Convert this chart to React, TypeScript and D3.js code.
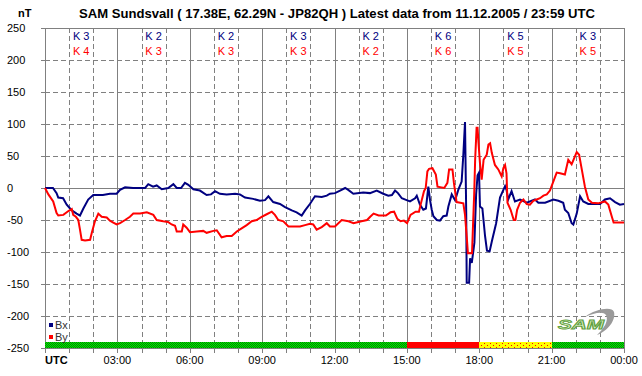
import React from 'react';
import * as d3 from 'd3';

const W = 642;
const H = 376;

const kBx = [3, 2, 2, 3, 2, 6, 5, 3];
const kBy = [4, 3, 3, 3, 2, 6, 5, 5];
const bandStatus = ['quiet', 'quiet', 'quiet', 'quiet', 'quiet', 'storm', 'active', 'quiet'];
const yTicks = [250, 200, 150, 100, 50, 0, -50, -100, -150, -200, -250];
const timeLabels = ['UTC', '03:00', '06:00', '09:00', '12:00', '15:00', '18:00', '21:00', '00:00'];

const bxSeries: [number, number][] = [
  [0, 0], [0.33, 0], [0.48, -8], [0.55, -15], [0.75, -16], [0.9, -26], [1.11, -35], [1.31, -40], [1.45, -43],
  [1.59, -32], [1.79, -18], [2.0, -11], [2.4, -11], [2.69, -9], [2.97, -9], [3.11, -3], [3.32, 1], [3.65, 0],
  [4.15, 0], [4.28, 6], [4.48, 2], [4.63, 4], [4.84, -2], [5.11, 0], [5.32, 6], [5.46, 0], [5.64, 0], [5.8, 8],
  [5.94, 5], [6.15, -2], [6.42, -4], [6.7, -11], [6.88, -10], [7.05, -5], [7.25, -9], [7.53, -10], [7.88, -9],
  [8.08, -10], [8.29, -15], [8.63, -17], [8.91, -20], [9.12, -19], [9.26, -13], [9.46, -22], [9.74, -25],
  [9.95, -30], [10.23, -35], [10.43, -38], [10.64, -43], [10.78, -35], [10.98, -25], [11.19, -13], [11.47, -14],
  [11.68, -12], [11.81, -9], [12.02, -8], [12.23, -4], [12.44, 0], [12.57, -3], [12.78, -9], [13.19, -7],
  [13.47, -8], [13.75, -4], [14.02, -9], [14.23, -12], [14.38, -11], [14.51, -4], [14.63, -8], [14.79, -16],
  [14.99, -19], [15.13, -21], [15.34, -16], [15.41, -12], [15.54, -26], [15.68, -34], [15.79, -32], [15.89, 2],
  [15.96, -19], [16.03, -34], [16.1, -44], [16.24, -50], [16.37, -51], [16.51, -44], [16.65, -43], [16.72, -29],
  [16.86, -10], [17.0, -19], [17.13, -3], [17.27, 10], [17.34, 52], [17.41, 103], [17.46, -40], [17.48, -148],
  [17.58, -148], [17.62, -110], [17.69, -117], [17.75, -100], [17.8, -85], [17.87, -10], [17.93, 20], [17.99, 24],
  [18.03, -29], [18.13, -32], [18.24, -75], [18.32, -98], [18.43, -99], [18.53, -82], [18.7, -55], [18.86, -15],
  [19.0, -3], [19.07, 3], [19.13, -3], [19.2, -18], [19.34, -5], [19.48, -21], [19.69, -18], [19.97, -23],
  [20.31, -18], [20.45, -23], [20.73, -23], [21.07, -18], [21.28, -20], [21.48, -23], [21.55, -34], [21.69, -39],
  [21.83, -55], [21.9, -57], [22.04, -40], [22.18, -13], [22.31, -21], [22.52, -25], [23.01, -25], [23.21, -18],
  [23.42, -16], [23.63, -22], [23.83, -26], [24.0, -25],
];

const bySeries: [number, number][] = [
  [0, 0], [0.14, -10], [0.34, -21], [0.48, -39], [0.55, -43], [0.76, -42], [0.97, -36], [1.11, -33], [1.17, -42],
  [1.28, -45], [1.38, -50], [1.45, -65], [1.52, -81], [1.66, -82], [1.87, -81], [1.94, -70], [2.07, -52],
  [2.21, -40], [2.35, -45], [2.56, -46], [2.69, -51], [2.83, -54], [2.97, -57], [3.11, -55], [3.32, -50],
  [3.52, -45], [3.66, -40], [3.94, -40], [4.22, -38], [4.49, -42], [4.63, -50], [4.9, -52], [5.1, -53],
  [5.25, -57], [5.39, -59], [5.46, -68], [5.67, -68], [5.73, -57], [5.87, -62], [6.01, -69], [6.29, -68],
  [6.56, -67], [6.7, -70], [6.98, -67], [7.12, -66], [7.32, -77], [7.53, -75], [7.74, -75], [7.95, -68],
  [8.15, -63], [8.36, -58], [8.57, -52], [8.77, -50], [8.98, -45], [9.19, -41], [9.4, -37], [9.53, -42],
  [9.67, -50], [9.88, -52], [10.09, -60], [10.28, -60], [10.57, -60], [10.78, -58], [10.98, -56], [11.12, -57],
  [11.26, -65], [11.47, -61], [11.68, -55], [11.81, -60], [12.02, -60], [12.3, -50], [12.58, -52], [12.79, -55],
  [13.12, -52], [13.35, -50], [13.48, -45], [13.62, -40], [13.83, -43], [14.13, -43], [14.32, -38], [14.47, -37],
  [14.6, -48], [14.74, -52], [14.88, -51], [15.01, -55], [15.15, -42], [15.36, -37], [15.5, -37], [15.57, -26],
  [15.71, -5], [15.78, 0], [15.85, 26], [15.92, 30], [16.06, 31], [16.2, 21], [16.27, 2], [16.55, 0], [16.68, 8],
  [16.75, 29], [16.89, 29], [16.95, 8], [17.06, -22], [17.34, -24], [17.41, -42], [17.48, -76], [17.53, -102],
  [17.7, -102], [17.74, -60], [17.79, -10], [17.83, 44], [17.89, 94], [17.93, 94], [17.97, 70], [18.03, 39],
  [18.1, 13], [18.18, 44], [18.31, 52], [18.38, 68], [18.45, 70], [18.52, 55], [18.65, 36], [18.79, 29],
  [18.93, 18], [19.0, 31], [19.07, 36], [19.13, 23], [19.17, -23], [19.3, -34], [19.43, -50], [19.5, -50],
  [19.57, -34], [19.69, -23], [19.83, -18], [19.97, -25], [20.1, -26], [20.24, -20], [20.38, -18], [20.52, -16],
  [20.66, -12], [20.8, -10], [20.93, -4], [21.07, 10], [21.21, 24], [21.35, 23], [21.55, 21], [21.69, 44],
  [21.83, 37], [22.04, 56], [22.14, 52], [22.25, 29], [22.38, 2], [22.52, -18], [22.67, -23], [22.92, -24],
  [23.21, -21], [23.35, -26], [23.49, -44], [23.57, -54], [24.0, -54],
];

const FONT = '"Liberation Sans", Arial, sans-serif';

export default function App() {
  const x = d3.scaleLinear().domain([0, 24]).range([45, 624]);
  const y = d3.scaleLinear().domain([-250, 250]).range([348, 28]);
  const px = (v: number) => Math.round(v) + 0.5;

  const line = d3
    .line<[number, number]>()
    .x((d) => x(d[0]))
    .y((d) => y(d[1]));

  const hours = d3.range(0, 25);
  const grey = '#808080';
  const bandFill: Record<string, string> = { quiet: 'url(#gq)', storm: '#ff0000', active: 'url(#ya)' };

  return (
    <svg
      width={W}
      height={H}
      style={{ position: 'absolute', left: 0, top: 0, background: '#fff' }}
      fontFamily={FONT}
    >
      <defs>
        <pattern id="gq" width={2} height={2} patternUnits="userSpaceOnUse">
          <rect width={2} height={2} fill="#00f000" />
          <rect width={1} height={1} fill="#008000" />
          <rect x={1} y={1} width={1} height={1} fill="#008000" />
        </pattern>
        <pattern id="ya" width={6} height={4} patternUnits="userSpaceOnUse">
          <rect width={6} height={4} fill="#ffff00" />
          <rect x={1} y={1} width={1} height={1} fill="#ff0000" />
          <rect x={4} y={3} width={1} height={1} fill="#ff0000" />
        </pattern>
      </defs>
      <rect width={W} height={H} fill="#fff" />

      {/* title */}
      <text x={18} y={17} fontSize={11} fontWeight="bold" fill="#000">nT</text>
      <text x={79} y={18} fontSize={13} fontWeight="bold" fill="#000" textLength={516} lengthAdjust="spacingAndGlyphs">
        SAM Sundsvall ( 17.38E, 62.29N - JP82QH ) Latest data from 11.12.2005 / 23:59 UTC
      </text>

      {/* grid */}
      <g shapeRendering="crispEdges">
        {yTicks.map((t) => (
          <g key={'y' + t}>
            <line
              x1={45}
              x2={624}
              y1={px(y(t))}
              y2={px(y(t))}
              stroke={grey}
              strokeDasharray={t === 0 || t === 250 || t === -250 ? undefined : '5,3'}
            />
            <line x1={41} x2={45} y1={px(y(t))} y2={px(y(t))} stroke={grey} />
          </g>
        ))}
        {hours.map((h) => (
          <g key={'x' + h}>
            <line
              x1={px(x(h))}
              x2={px(x(h))}
              y1={28}
              y2={348}
              stroke={grey}
              strokeDasharray={h % 3 === 0 ? undefined : '5,3'}
            />
            <line x1={px(x(h))} x2={px(x(h))} y1={348} y2={353} stroke={grey} />
          </g>
        ))}
      </g>

      {/* y labels */}
      {yTicks.map((t) => (
        <text key={'yl' + t} x={7} y={y(t) + 4} fontSize={11} fill="#000">
          {t}
        </text>
      ))}

      {/* K indices */}
      {kBx.map((k, i) => (
        <text key={'kb' + i} x={x(i * 3 + 1.5)} y={40} fontSize={11} fill="#000080" textAnchor="middle">
          {'K ' + k}
        </text>
      ))}
      {kBy.map((k, i) => (
        <text key={'kr' + i} x={x(i * 3 + 1.5)} y={55} fontSize={11} fill="#ff0000" textAnchor="middle">
          {'K ' + k}
        </text>
      ))}

      {/* series */}
      <path d={line(bxSeries) || ''} fill="none" stroke="#000080" strokeWidth={2} strokeLinejoin="miter" />
      <path d={line(bySeries) || ''} fill="none" stroke="#ff0000" strokeWidth={2} strokeLinejoin="miter" />

      {/* status band */}
      {bandStatus.map((s, i) => (
        <rect
          key={'b' + i}
          x={Math.round(x(i * 3))}
          y={342}
          width={Math.round(x(i * 3 + 3)) - Math.round(x(i * 3))}
          height={6}
          fill={bandFill[s]}
          shapeRendering="crispEdges"
        />
      ))}

      {/* x labels */}
      {timeLabels.map((l, i) =>
        i === 0 ? (
          <text key={'xl' + i} x={45} y={364} fontSize={11} fontWeight="bold" fill="#000">
            {l}
          </text>
        ) : (
          <text key={'xl' + i} x={x(i * 3)} y={364} fontSize={11} fill="#000" textAnchor="middle">
            {l}
          </text>
        )
      )}

      {/* legend */}
      <rect x={49} y={323} width={4} height={4} fill="#000080" />
      <text x={55} y={329} fontSize={11} fill="#333">Bx</text>
      <rect x={49} y={335} width={4} height={4} fill="#ff0000" />
      <text x={55} y={341} fontSize={11} fill="#333">By</text>

      {/* logo */}
      <g>
        <path
          d="M585,317 C595,309 612,306 614,312 C616,320 608,331 597,335 C604,329 609,320 606,315 C603,311 594,313 585,317 Z"
          fill="#9a9a9a"
        />
        <text
          x={558}
          y={329}
          fontSize={12}
          fontStyle="italic"
          fontWeight="bold"
          fill="#d8ecc0"
          stroke="#60a040"
          strokeWidth={0.8}
          textLength={46}
          lengthAdjust="spacingAndGlyphs"
        >
          SAM
        </text>
      </g>
    </svg>
  );
}
